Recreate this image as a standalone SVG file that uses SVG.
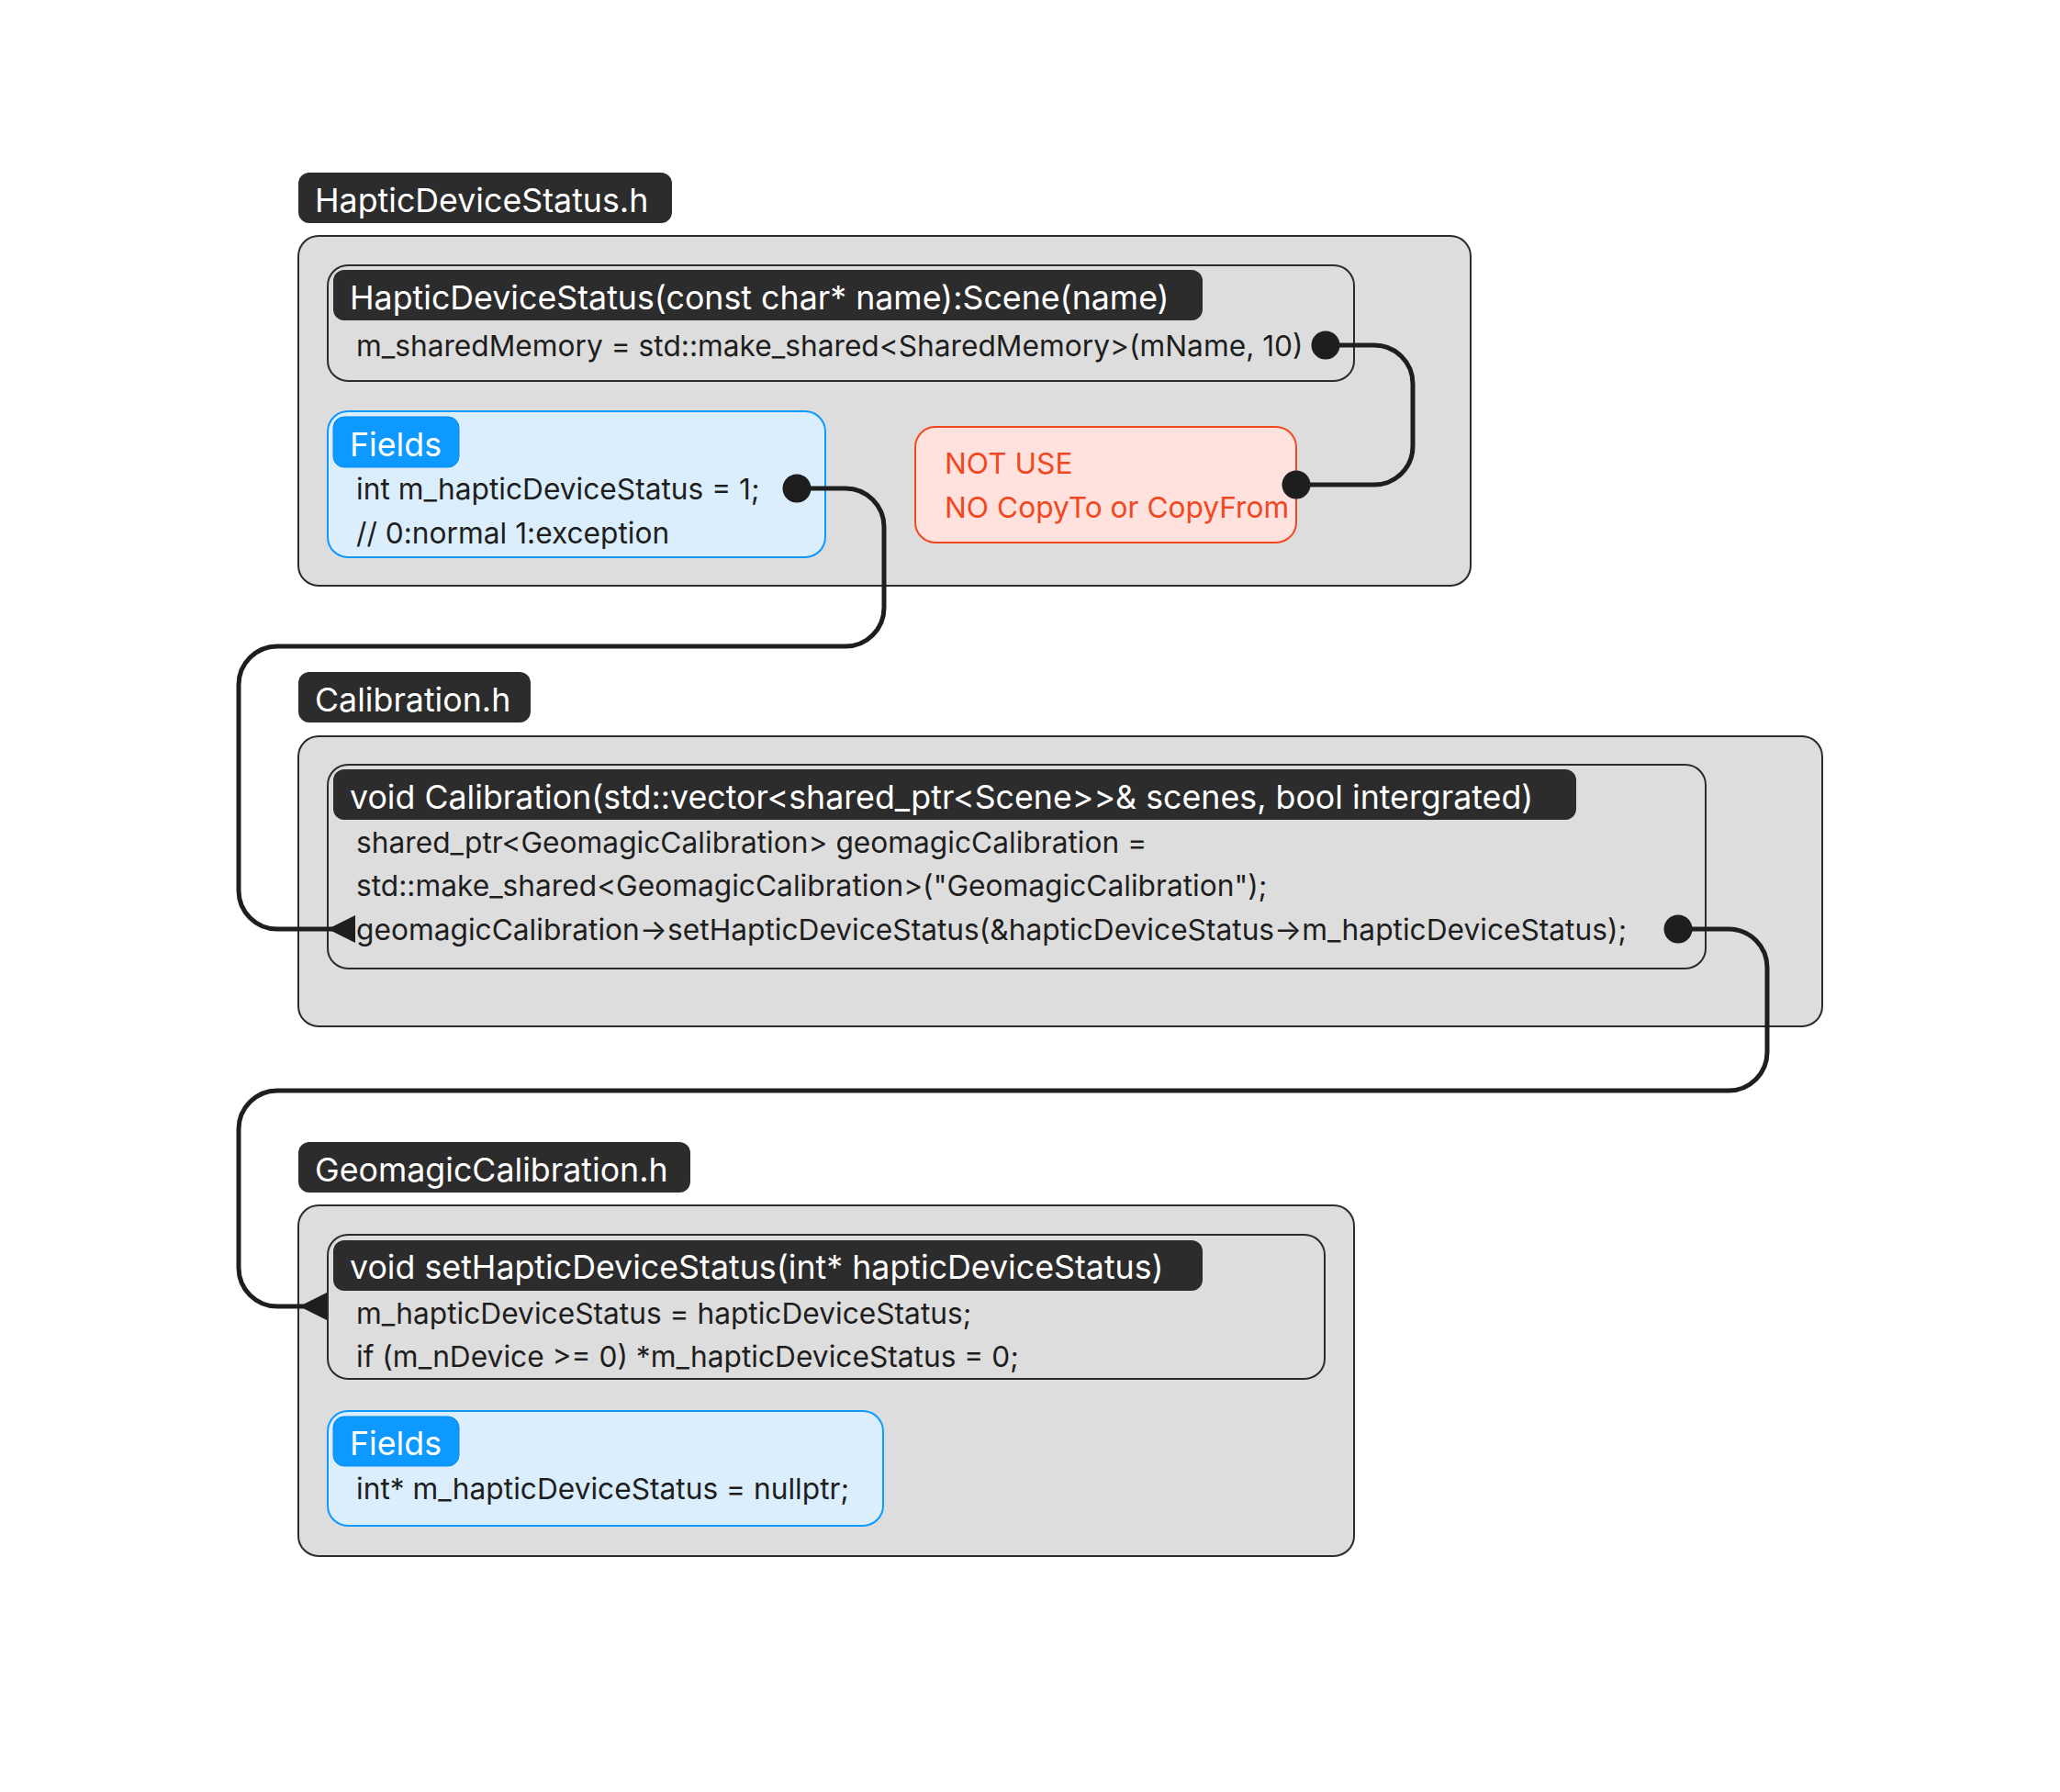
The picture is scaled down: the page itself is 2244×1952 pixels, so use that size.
<svg xmlns="http://www.w3.org/2000/svg" width="2244" height="1952" viewBox="0 0 2244 1952">
  <style>
    text { font-family: Inter, "Noto Sans", "Liberation Sans", sans-serif; font-size: 31.7px; }
    .file { fill: #dddddd; stroke: #2c2c2c; stroke-width: 2; }
    .method { fill: #dddddd; stroke: #2c2c2c; stroke-width: 2; }
    .tag { fill: #2c2c2c; }
    .tag-text { fill: #ffffff; font-size: 35.75px; }
    .code { fill: #1e1e1e; }
    .fields { fill: #dbeefd; stroke: #0d99ff; stroke-width: 2; }
    .fields-tag { fill: #0d99ff; stroke: #0a8ae6; stroke-width: 1; }
    .warn { fill: #ffe2dd; stroke: #f24822; stroke-width: 2; }
    .warn-text { fill: #f24822; }
    .link { fill: none; stroke: #1e1e1e; stroke-width: 5; }
  </style>
  <defs>
    <marker id="dot" viewBox="0 0 32 32" refX="16" refY="16" markerWidth="32" markerHeight="32" markerUnits="userSpaceOnUse">
      <circle cx="16" cy="16" r="15.5" fill="#1e1e1e"/>
    </marker>
    <marker id="head" viewBox="0 0 30 30" refX="30" refY="15" markerWidth="30" markerHeight="30" markerUnits="userSpaceOnUse" orient="auto">
      <path d="M0,15 L30,0 L30,30 Z" fill="#1e1e1e"/>
    </marker>
  </defs>
  <rect width="2244" height="1952" fill="#ffffff"/>

  <!-- HapticDeviceStatus.h -->
  <g id="haptic-device-status-h">
    <rect class="tag" x="325" y="188" width="407" height="55" rx="12"/>
    <text class="tag-text" x="343" y="231">HapticDeviceStatus.h</text>
    <rect class="file" x="325" y="257" width="1277" height="381" rx="22"/>
  </g>
  <g id="haptic-device-status-ctor">
    <rect class="method" x="357" y="289" width="1118" height="126" rx="22"/>
    <rect class="tag" x="363" y="294" width="947" height="55" rx="12"/>
    <text class="tag-text" x="381" y="337">HapticDeviceStatus(const char* name):Scene(name)</text>
    <text class="code" x="388" y="388">m_sharedMemory = std::make_shared&lt;SharedMemory&gt;(mName, 10)</text>
  </g>
  <g id="haptic-device-status-fields">
    <rect class="fields" x="357" y="448" width="542" height="159" rx="22"/>
    <rect class="fields-tag" x="363" y="454" width="137" height="55" rx="12"/>
    <text class="tag-text" x="381" y="497">Fields</text>
    <text class="code" x="388" y="544">int m_hapticDeviceStatus = 1;</text>
    <text class="code" x="388" y="592">// 0:normal 1:exception</text>
  </g>
  <g id="not-use-note">
    <rect class="warn" x="997" y="465" width="415" height="126" rx="22"/>
    <text class="warn-text" x="1029" y="516">NOT USE</text>
    <text class="warn-text" x="1029" y="564">NO CopyTo or CopyFrom</text>
  </g>

  <!-- Calibration.h -->
  <g id="calibration-h">
    <rect class="tag" x="325" y="732" width="253" height="55" rx="12"/>
    <text class="tag-text" x="343" y="775">Calibration.h</text>
    <rect class="file" x="325" y="802" width="1660" height="316" rx="22"/>
  </g>
  <g id="calibration-fn">
    <rect class="method" x="357" y="833" width="1501" height="222" rx="22"/>
    <rect class="tag" x="363" y="838" width="1354" height="55" rx="12"/>
    <text class="tag-text" x="381" y="881">void Calibration(std::vector&lt;shared_ptr&lt;Scene&gt;&gt;&amp; scenes, bool intergrated)</text>
    <text class="code" x="388" y="929">shared_ptr&lt;GeomagicCalibration&gt; geomagicCalibration =</text>
    <text class="code" x="388" y="976">std::make_shared&lt;GeomagicCalibration&gt;("GeomagicCalibration");</text>
    <text class="code" x="388" y="1024">geomagicCalibration→setHapticDeviceStatus(&amp;hapticDeviceStatus→m_hapticDeviceStatus);</text>
  </g>

  <!-- GeomagicCalibration.h -->
  <g id="geomagic-calibration-h">
    <rect class="tag" x="325" y="1244" width="427" height="55" rx="12"/>
    <text class="tag-text" x="343" y="1287">GeomagicCalibration.h</text>
    <rect class="file" x="325" y="1313" width="1150" height="382" rx="22"/>
  </g>
  <g id="set-haptic-device-status">
    <rect class="method" x="357" y="1345" width="1086" height="157" rx="22"/>
    <rect class="tag" x="363" y="1351" width="947" height="55" rx="12"/>
    <text class="tag-text" x="381" y="1393">void setHapticDeviceStatus(int* hapticDeviceStatus)</text>
    <text class="code" x="388" y="1442">m_hapticDeviceStatus = hapticDeviceStatus;</text>
    <text class="code" x="388" y="1489">if (m_nDevice &gt;= 0) *m_hapticDeviceStatus = 0;</text>
  </g>
  <g id="geomagic-calibration-fields">
    <rect class="fields" x="357" y="1537" width="605" height="125" rx="22"/>
    <rect class="fields-tag" x="363" y="1543" width="137" height="54" rx="12"/>
    <text class="tag-text" x="381" y="1585">Fields</text>
    <text class="code" x="388" y="1633">int* m_hapticDeviceStatus = nullptr;</text>
  </g>

  <!-- connectors -->
  <g id="connectors">
    <path class="link" marker-start="url(#dot)" marker-end="url(#dot)"
          d="M1444,376 H1497 A42,42 0 0 1 1539,418 V486 A42,42 0 0 1 1497,528 H1412"/>
    <path class="link" marker-start="url(#dot)" marker-end="url(#head)"
          d="M868,532 H921 A42,42 0 0 1 963,574 V662 A42,42 0 0 1 921,704 H302 A42,42 0 0 0 260,746 V970 A42,42 0 0 0 302,1012 H387"/>
    <path class="link" marker-start="url(#dot)" marker-end="url(#head)"
          d="M1828,1012 H1883 A42,42 0 0 1 1925,1054 V1146 A42,42 0 0 1 1883,1188 H302 A42,42 0 0 0 260,1230 V1381 A42,42 0 0 0 302,1423 H356"/>
  </g>
</svg>
